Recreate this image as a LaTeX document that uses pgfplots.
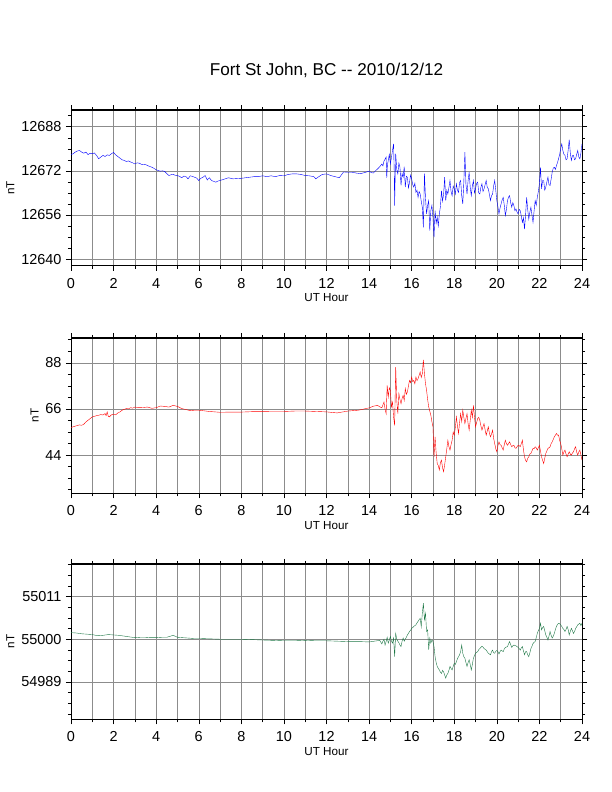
\documentclass[border=0pt]{standalone}
\usepackage{fontspec}
\setmainfont{Liberation Sans}
\usepackage{pgfplots}
\pgfplotsset{compat=1.18}
\definecolor{zgreen}{RGB}{30,120,70}
\definecolor{gridgray}{RGB}{140,140,140}
\pgfplotsset{
  gmt/.style={
    scale only axis, width=511bp, height=155.5bp,
    xmin=0, xmax=24, xtick={0,2,...,24}, minor x tick num=1,
    xmajorgrids, xminorgrids, ymajorgrids,
    major grid style={gridgray, line width=0.5pt},
    minor grid style={gridgray, line width=0.5pt},
    tick align=outside, xtick pos=both, ytick pos=both,
    major tick length=5bp, minor tick length=3bp,
    tick style={black, line width=0.5pt},
    axis line style={line width=0.7pt},
    tick label style={font=\fontsize{14.5}{16}\selectfont},
    scaled ticks=false,
    /pgf/number format/.cd, fixed, precision=0, assume math mode=true, set thousands separator={},
    /pgfplots/.cd,
    xticklabel style={yshift=-4bp},
    yticklabel style={xshift=-1bp},
    xlabel={UT Hour}, ylabel={nT},
    label style={font=\fontsize{11.7}{13}\selectfont},
    xlabel style={yshift=1.5bp},
    clip=true,
    after end axis/.code={
      \draw[black, line width=1.5pt] (rel axis cs:0,0) -- (rel axis cs:1,0);
      \draw[black, line width=1.5pt] (rel axis cs:0,1) -- (rel axis cs:1,1);
    },
  }
}
\begin{document}
\begin{tikzpicture}
\path[use as bounding box] (0,0) rectangle (612bp,-792bp);
\node[anchor=base, font=\fontsize{17.2}{20}\selectfont, inner sep=0] at (326.5bp,-75bp) {Fort St John, BC \mbox{-}\mbox{-} 2010/12/12};

% ---------------- X component ----------------
\begin{axis}[gmt, at={(71bp,-265.7bp)}, anchor=south west,
  ymin=12637.6, ymax=12694,
  ytick={12640,12656,12672,12688},
  minor ytick={12644,12648,12652,12660,12664,12668,12676,12680,12684,12692}]
\addplot[blue, line width=0.4pt] table {
x y
0.0 12677.9
0.1 12678.2
0.2 12678.8
0.3 12679.2
0.4 12679.4
0.5 12678.8
0.6 12678.4
0.7 12678.8
0.8 12677.9
0.9 12678.4
1.0 12678.2
1.1 12678.5
1.2 12677.6
1.3 12676.4
1.4 12677.0
1.5 12677.6
1.6 12677.2
1.7 12677.8
1.8 12677.6
1.9 12678.2
2.0 12678.7
2.1 12677.8
2.2 12677.2
2.3 12676.6
2.4 12676.0
2.5 12675.8
2.6 12675.4
2.7 12675.6
2.8 12675.2
2.9 12674.9
3.0 12674.5
3.1 12674.9
3.2 12674.8
3.3 12674.4
3.4 12674.2
3.5 12674.3
3.6 12673.9
3.7 12673.6
3.8 12673.3
3.9 12672.9
4.0 12672.4
4.1 12672.1
4.2 12671.9
4.3 12672.0
4.4 12671.8
4.5 12671.0
4.6 12670.3
4.7 12670.6
4.8 12670.7
4.9 12670.4
5.0 12670.3
5.1 12670.0
5.2 12669.5
5.3 12670.1
5.4 12669.9
5.5 12669.1
5.6 12670.2
5.7 12670.0
5.8 12669.7
5.9 12669.4
6.0 12668.5
6.1 12669.3
6.2 12669.7
6.3 12670.3
6.4 12668.7
6.5 12669.5
6.6 12668.5
6.7 12668.2
6.8 12667.9
6.9 12668.3
7.0 12668.5
7.2 12669.0
7.4 12669.5
7.6 12669.1
7.8 12669.2
8.0 12669.3
8.2 12669.5
8.4 12669.7
8.6 12669.9
8.8 12669.9
9.0 12670.2
9.2 12669.9
9.4 12670.2
9.6 12669.9
9.8 12670.3
10.0 12670.2
10.2 12670.7
10.4 12670.9
10.6 12670.9
10.8 12670.7
11.0 12670.3
11.2 12670.2
11.4 12669.9
11.5 12669.1
11.6 12669.7
11.8 12670.7
12.0 12670.9
12.2 12670.3
12.4 12669.9
12.6 12669.5
12.8 12671.6
13.0 12671.5
13.2 12671.5
13.4 12671.2
13.6 12671.0
13.8 12671.4
14.0 12671.9
14.1 12671.4
14.2 12671.2
14.3 12672.0
14.4 12672.7
14.5 12673.5
14.6 12674.5
14.65 12673.8
14.7 12675.6
14.75 12676.2
14.8 12677.0
14.83 12669.5
14.86 12674.0
14.9 12675.8
14.95 12678.0
15.0 12674.5
15.05 12676.8
15.1 12679.4
15.15 12681.8
15.18 12672.0
15.2 12659.4
15.22 12668.0
15.25 12678.2
15.3 12672.5
15.35 12670.9
15.4 12674.8
15.45 12673.3
15.5 12666.7
15.55 12671.0
15.6 12669.7
15.65 12673.5
15.7 12666.1
15.75 12670.0
15.8 12669.7
15.85 12665.8
15.9 12667.9
15.95 12670.5
16.0 12669.1
16.05 12667.0
16.1 12666.1
16.15 12667.5
16.2 12664.2
16.25 12665.0
16.3 12662.4
16.35 12664.5
16.4 12663.6
16.45 12661.0
16.5 12658.8
16.55 12651.5
16.6 12671.0
16.65 12662.0
16.7 12656.4
16.75 12659.5
16.8 12661.2
16.85 12650.3
16.9 12657.6
16.95 12659.5
17.0 12655.2
17.05 12647.9
17.1 12657.6
17.15 12653.0
17.2 12655.2
17.25 12652.0
17.3 12656.4
17.35 12659.0
17.4 12664.8
17.45 12661.0
17.5 12663.6
17.55 12669.7
17.6 12661.2
17.65 12665.0
17.7 12663.6
17.75 12666.0
17.8 12668.5
17.85 12664.5
17.9 12663.0
17.95 12666.5
18.0 12665.5
18.05 12663.5
18.1 12667.3
18.15 12665.0
18.2 12664.2
18.25 12667.8
18.3 12668.5
18.35 12663.0
18.4 12660.0
18.45 12668.0
18.5 12678.8
18.55 12667.0
18.6 12663.6
18.65 12668.5
18.7 12671.5
18.75 12666.0
18.8 12663.0
18.85 12666.5
18.9 12668.5
18.95 12664.0
19.0 12665.5
19.05 12667.5
19.1 12667.9
19.15 12664.0
19.2 12663.6
19.25 12666.0
19.3 12667.3
19.35 12664.5
19.4 12665.5
19.45 12667.0
19.5 12668.5
19.55 12666.0
19.6 12665.5
19.65 12663.5
19.7 12661.2
19.75 12663.0
19.8 12663.6
19.85 12666.5
19.9 12668.5
19.95 12665.0
20.0 12661.2
20.05 12659.0
20.1 12656.4
20.15 12658.5
20.2 12660.0
20.25 12661.5
20.3 12662.4
20.35 12659.5
20.4 12655.8
20.45 12658.0
20.5 12661.2
20.55 12662.5
20.6 12663.0
20.65 12660.5
20.7 12658.8
20.75 12660.5
20.8 12659.4
20.85 12657.5
20.9 12658.2
20.95 12657.0
21.0 12656.4
21.05 12658.0
21.1 12657.6
21.15 12655.5
21.2 12653.3
21.25 12655.0
21.3 12650.9
21.35 12656.0
21.4 12662.4
21.45 12658.0
21.5 12654.5
21.55 12657.0
21.6 12658.8
21.65 12656.0
21.7 12653.3
21.75 12657.5
21.8 12661.2
21.85 12659.5
21.9 12662.4
21.95 12664.5
22.0 12667.3
22.05 12673.3
22.1 12665.5
22.15 12668.5
22.2 12668.5
22.25 12665.0
22.3 12666.1
22.35 12668.0
22.4 12669.7
22.45 12667.0
22.5 12666.7
22.55 12669.0
22.6 12671.5
22.65 12673.0
22.7 12673.3
22.75 12672.5
22.8 12673.9
22.85 12675.0
22.9 12676.4
22.95 12678.0
23.0 12680.0
23.05 12681.8
23.1 12679.4
23.15 12678.0
23.2 12677.6
23.25 12676.0
23.3 12676.4
23.35 12679.5
23.4 12683.3
23.45 12678.5
23.5 12675.8
23.55 12677.5
23.6 12677.6
23.65 12676.0
23.7 12676.4
23.75 12678.0
23.8 12679.4
23.85 12677.0
23.9 12676.4
23.95 12678.5
24.0 12681.8
};
\node[anchor=base west, inner sep=0, font=\fontsize{11.7}{13}\selectfont] at (rel axis cs:0,1) [xshift=1bp, yshift=8.5bp] {X component};
\end{axis}

% ---------------- Y component ----------------
\begin{axis}[gmt, at={(71bp,-493.3bp)}, anchor=south west,
  ymin=25.8, ymax=99.9,
  ytick={44,66,88},
  minor ytick={27.5,33,38.5,49.5,55,60.5,71.5,77,82.5,93.5,99}]
\addplot[red, line width=0.4pt] table {
x y
0.0 57.1
0.1 57.5
0.2 57.8
0.3 58.1
0.4 58.4
0.5 58.2
0.6 58.7
0.7 59.8
0.8 60.6
0.9 61.4
1.0 62.2
1.1 62.5
1.2 62.8
1.3 63.0
1.4 63.3
1.5 63.1
1.6 63.8
1.65 62.8
1.7 64.6
1.75 62.5
1.8 62.2
1.9 63.2
2.0 63.5
2.1 63.2
2.2 64.1
2.3 64.6
2.4 65.4
2.5 65.8
2.6 66.2
2.7 66.0
2.8 66.6
2.9 66.4
3.0 66.9
3.2 66.6
3.4 66.7
3.6 66.9
3.8 66.3
4.0 66.6
4.2 67.4
4.4 67.2
4.6 66.9
4.8 67.7
5.0 67.2
5.2 66.2
5.4 65.7
5.6 65.2
5.8 65.4
6.0 65.4
6.5 64.8
7.0 64.4
7.5 64.5
8.0 64.5
8.5 64.7
9.0 64.7
9.5 64.8
10.0 64.8
10.5 65.0
11.0 65.0
11.5 64.8
12.0 64.6
12.5 64.1
13.0 65.0
13.5 65.4
14.0 66.5
14.2 67.3
14.4 67.7
14.5 67.0
14.6 66.6
14.7 69.3
14.75 66.0
14.8 63.8
14.85 77.2
14.9 71.7
14.95 76.0
15.0 74.9
15.05 67.0
15.1 69.3
15.15 62.2
15.2 58.2
15.25 85.9
15.3 70.1
15.35 63.8
15.4 73.3
15.45 70.5
15.5 68.5
15.55 71.0
15.6 72.5
15.65 70.0
15.7 75.7
15.75 73.0
15.8 74.1
15.85 77.0
15.9 79.6
15.95 78.5
16.0 81.2
16.05 79.0
16.1 79.6
16.15 78.0
16.2 81.2
16.25 79.5
16.3 80.4
16.35 82.0
16.4 83.6
16.45 81.0
16.5 82.8
16.55 89.4
16.6 82.8
16.65 78.0
16.7 74.9
16.75 70.5
16.8 67.0
16.85 65.0
16.9 63.0
16.95 60.0
17.0 57.5
17.05 43.2
17.1 52.7
17.15 45.0
17.2 40.0
17.25 39.0
17.3 36.9
17.35 40.5
17.4 41.6
17.45 38.0
17.5 36.1
17.55 39.5
17.6 43.2
17.65 47.0
17.7 51.1
17.75 48.0
17.8 46.4
17.85 49.0
17.9 51.1
17.95 55.0
18.0 53.5
18.05 57.0
18.1 62.2
18.15 58.0
18.2 54.3
18.25 59.5
18.3 63.8
18.35 60.0
18.4 65.4
18.45 62.0
18.5 59.0
18.55 61.5
18.6 63.8
18.65 59.0
18.7 55.9
18.75 60.5
18.8 65.4
18.85 62.0
18.9 67.7
18.95 62.0
19.0 57.5
19.05 59.5
19.1 61.4
19.15 62.0
19.2 60.6
19.25 58.0
19.3 55.9
19.35 57.5
19.4 59.0
19.45 56.0
19.5 53.5
19.55 55.5
19.6 57.5
19.65 54.5
19.7 52.7
19.75 54.0
19.8 55.9
19.85 52.0
19.9 49.5
19.95 47.0
20.0 45.6
20.05 48.5
20.1 50.3
20.15 49.0
20.2 48.7
20.25 47.5
20.3 46.4
20.35 49.0
20.4 51.1
20.45 49.5
20.5 48.7
20.55 49.5
20.6 50.3
20.65 49.0
20.7 48.0
20.75 48.5
20.8 48.7
20.85 47.5
20.9 47.2
20.95 48.0
21.0 48.7
21.05 48.5
21.1 48.0
21.15 49.5
21.2 51.1
21.25 46.5
21.3 43.2
21.35 41.5
21.4 40.8
21.45 42.5
21.5 43.2
21.55 44.5
21.6 44.8
21.65 46.0
21.7 47.2
21.75 47.0
21.8 48.0
21.85 47.5
21.9 46.4
21.95 47.5
22.0 48.7
22.05 46.0
22.1 43.2
22.15 41.5
22.2 40.0
22.25 42.5
22.3 44.8
22.35 46.0
22.4 47.2
22.45 47.5
22.5 48.0
22.55 49.5
22.6 50.3
22.65 51.5
22.7 52.7
22.75 53.5
22.8 54.3
22.85 53.5
22.9 53.5
22.95 51.0
23.0 49.5
23.05 47.0
23.1 44.0
23.15 45.5
23.2 46.4
23.25 44.5
23.3 43.2
23.35 44.5
23.4 45.6
23.45 44.5
23.5 44.0
23.55 45.0
23.6 45.6
23.65 47.0
23.7 48.0
23.75 45.5
23.8 44.0
23.85 45.5
23.9 46.4
23.95 44.0
24.0 41.6
};
\node[anchor=base west, inner sep=0, font=\fontsize{11.7}{13}\selectfont] at (rel axis cs:0,1) [xshift=1bp, yshift=8.5bp] {Y component};
\end{axis}

% ---------------- Z component ----------------
\begin{axis}[gmt, at={(71bp,-719.3bp)}, anchor=south west,
  ymin=54979.4, ymax=55019.4,
  ytick={54989,55000,55011},
  minor ytick={54980.75,54983.5,54986.25,54991.75,54994.5,54997.25,55002.75,55005.5,55008.25,55013.75,55016.5,55019.25}]
\addplot[zgreen, line width=0.4pt] table {
x y
0.0 55001.7
0.25 55001.6
0.5 55001.4
0.75 55001.3
1.0 55001.2
1.25 55000.9
1.5 55001.0
1.75 55001.2
2.0 55001.1
2.25 55001.0
2.5 55000.8
2.75 55000.6
3.0 55000.4
3.25 55000.5
3.5 55000.5
3.75 55000.4
4.0 55000.4
4.25 55000.5
4.5 55000.5
4.8 55001.0
5.0 55000.5
5.25 55000.4
5.5 55000.3
5.75 55000.2
6.0 55000.2
6.5 55000.1
7.0 55000.0
7.5 55000.0
8.0 55000.0
8.5 54999.9
9.0 54999.8
9.5 54999.7
10.0 54999.6
10.5 54999.6
11.0 54999.7
11.5 54999.6
12.0 54999.6
12.5 54999.5
13.0 54999.4
13.5 54999.4
14.0 54999.3
14.5 54999.7
14.6 54998.8
14.65 54999.5
14.7 55000.0
14.75 54998.5
14.8 54999.4
14.85 55000.5
14.9 54999.0
14.95 54999.8
15.0 55000.7
15.05 54999.5
15.1 54999.0
15.15 55000.3
15.2 54995.5
15.25 55001.5
15.3 55000.0
15.35 54999.5
15.4 54999.1
15.45 54998.5
15.5 54998.1
15.55 54999.5
15.6 55000.3
15.65 54999.5
15.7 55000.0
15.75 55000.5
15.8 55001.1
15.85 55001.5
15.9 55002.0
15.95 55002.3
16.0 55002.8
16.05 55003.0
16.1 55003.3
16.15 55003.5
16.2 55003.7
16.25 55004.2
16.3 55004.6
16.35 55005.0
16.4 55005.4
16.45 55003.2
16.5 55006.7
16.55 55009.3
16.6 55005.0
16.65 55006.7
16.7 55002.0
16.75 55002.4
16.8 54997.3
16.85 55000.3
16.9 54999.0
16.95 54999.8
17.0 54999.4
17.05 54998.1
17.1 54995.5
17.15 54994.0
17.2 54993.0
17.25 54992.5
17.3 54992.1
17.35 54991.5
17.4 54991.2
17.45 54992.0
17.5 54991.6
17.55 54990.8
17.6 54990.0
17.65 54990.8
17.7 54991.2
17.75 54992.0
17.8 54993.0
17.85 54992.5
17.9 54992.1
17.95 54993.0
18.0 54993.8
18.05 54993.5
18.1 54994.2
18.15 54995.0
18.2 54995.5
18.25 54996.0
18.3 54996.8
18.35 54998.5
18.4 54996.4
18.45 54995.5
18.5 54995.1
18.55 54994.0
18.6 54993.0
18.65 54994.0
18.7 54994.7
18.75 54993.5
18.8 54992.1
18.85 54993.5
18.9 54995.1
18.95 54995.8
19.0 54996.4
19.05 54996.6
19.1 54996.8
19.15 54997.3
19.2 54997.6
19.25 54997.9
19.3 54998.2
19.35 54998.0
19.4 54997.6
19.45 54997.4
19.5 54997.2
19.55 54996.8
19.6 54996.4
19.65 54996.2
19.7 54996.0
19.75 54996.8
19.8 54997.2
19.85 54996.5
19.9 54996.4
19.95 54996.9
20.0 54997.1
20.05 54996.8
20.1 54996.2
20.15 54996.8
20.2 54997.2
20.25 54997.0
20.3 54996.8
20.35 54997.5
20.4 54997.9
20.45 54998.0
20.5 54998.1
20.55 54998.8
20.6 54999.4
20.65 54998.6
20.7 54997.9
20.75 54998.3
20.8 54998.5
20.85 54998.4
20.9 54998.3
20.95 54998.1
21.0 54997.9
21.05 54997.6
21.1 54997.2
21.15 54997.8
21.2 54998.1
21.25 54997.0
21.3 54996.0
21.35 54996.8
21.4 54996.8
21.45 54996.0
21.5 54995.5
21.55 54996.5
21.6 54997.6
21.65 54998.2
21.7 54998.9
21.75 54999.2
21.8 54999.4
21.85 55000.4
21.9 55001.5
21.95 55002.2
22.0 55002.8
22.05 55004.1
22.1 55002.4
22.15 55003.0
22.2 55003.3
22.25 55002.2
22.3 55001.1
22.35 55000.5
22.4 54999.8
22.45 55000.8
22.5 55002.0
22.55 55001.0
22.6 55000.3
22.65 55000.8
22.7 55001.5
22.75 55002.5
22.8 55003.3
22.85 55003.8
22.9 55004.1
22.95 55004.0
23.0 55003.7
23.05 55003.3
23.1 55002.8
23.15 55002.5
23.2 55002.0
23.25 55002.5
23.3 55003.3
23.35 55002.5
23.4 55001.1
23.45 55002.0
23.5 55002.8
23.55 55002.2
23.6 55001.5
23.65 55002.0
23.7 55002.8
23.75 55003.2
23.8 55003.7
23.85 55003.9
23.9 55004.1
23.95 55003.5
24.0 55004.1
};
\node[anchor=base west, inner sep=0, font=\fontsize{11.7}{13}\selectfont] at (rel axis cs:0,1) [xshift=1bp, yshift=8.5bp] {Z component};
\end{axis}
\end{tikzpicture}
\end{document}
